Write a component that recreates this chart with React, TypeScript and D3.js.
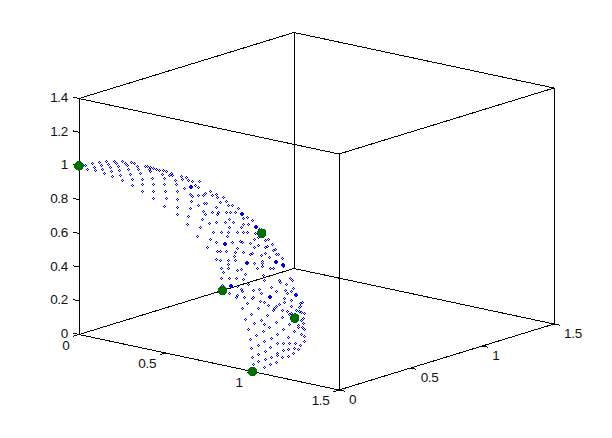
import React from "react";
import * as d3 from "d3";

const xTicks = [0, 0.5, 1, 1.5];
const yTicks = [0, 0.5, 1, 1.5];
const zTicks = [0, 0.2, 0.4, 0.6, 0.8, 1, 1.2, 1.4];

// green marker points [x, y, z]
const markers = [
  [0, 0, 1],
  [0, 1, 0],
  [0.577, 0.577, 0.577],
  [0.681, 0.681, 0.069],
  [1, 0, 0],
];

// blue cloud: depth can't be read off a flat picture, so each dot is kept as
// where it sits on the x = y plane: [x (= y), z]
const cloudTop = [
  [.019,1.005],[.025,.980],[.041,1.016],[.047,.992],[.051,.973],[.063,1.021],[.069,1.003],[.073,.978],[.079,.954],
  [.085,1.026],[.092,1.008],[.098,.989],[.101,.965],[.104,.935],[.111,1.025],[.117,1.013],[.123,.995],[.126,.970],
  [.129,.940],[.136,.911],[.136,1.024],[.145,1.012],[.152,1.000],[.155,.975],[.161,.945],[.167,.916],[.167,.880],
  [.164,1.017],[.174,1.011],[.183,.992],[.186,.974],[.193,.950],[.199,.915],[.199,.885],[.199,.843],[.208,.992],
  [.215,.991],[.224,.985],[.234,.979],[.243,.972],[.221,.973],[.224,.961],[.231,.920],[.234,.884],[.234,.842],
  [.234,.800],[.253,.966],[.262,.942],[.268,.918],[.268,.882],[.272,.840],[.275,.798],[.268,.750],[.284,.935],
  [.303,.905],[.306,.881],[.310,.839],[.310,.791],[.310,.743],[.310,.701],[.294,.934],[.325,.910],[.332,.856],
  [.344,.904],[.357,.897],[.366,.873],[.376,.861],[.379,.896],[.351,.819],[.357,.807],[.376,.813],[.354,.777],
  [.351,.735],[.376,.753],[.344,.688],[.341,.640],[.265,.965],[.275,.959],[.291,.947],[.322,.927],[.338,.922],[.373,.567],
];
const cloudMiddle = [
  [.392,.812],[.398,.824],[.395,.764],[.401,.764],[.414,.835],[.420,.811],[.433,.816],[.436,.798],[.445,.768],
  [.455,.798],[.433,.738],[.464,.773],[.471,.749],[.483,.749],[.502,.730],[.392,.716],[.398,.698],[.420,.709],
  [.439,.708],[.436,.696],[.464,.707],[.477,.707],[.493,.706],[.531,.675],[.518,.669],[.518,.633],[.389,.668],
  [.411,.643],[.433,.648],[.461,.647],[.474,.665],[.486,.647],[.546,.656],[.534,.633],[.512,.616],[.499,.586],
  [.518,.585],[.531,.585],[.382,.620],[.423,.589],[.449,.588],[.474,.617],[.471,.587],[.467,.563],[.569,.602],
  [.556,.578],[.414,.547],[.433,.529],[.483,.528],[.509,.533],[.515,.527],[.540,.520],[.404,.500],[.499,.491],
  [.553,.542],[.565,.554],[.553,.495],[.565,.507],[.436,.475],[.445,.475],[.464,.474],[.493,.467],[.518,.466],
  [.490,.443],[.433,.427],[.445,.421],[.471,.420],[.471,.396],[.493,.419],[.449,.373],[.455,.349],[.449,.319],
  [.471,.372],[.474,.318],[.499,.359],[.512,.365],[.524,.340],[.496,.317],[.518,.310],[.452,.277],[.499,.269],
  [.534,.280],[.512,.251],[.515,.239],[.474,.228],[.499,.215],[.496,.203],[.521,.202],[.531,.167],[.515,.138],
  [.587,.536],[.597,.541],[.587,.494],[.594,.500],[.610,.511],[.613,.475],[.619,.481],[.587,.458],[.575,.446],
  [.600,.433],[.622,.451],[.629,.450],[.641,.426],[.578,.410],[.553,.399],[.546,.459],[.540,.454],[.578,.398],
];
const cloudLower = [
  [.562,.372],[.578,.383],[.603,.370],[.613,.370],[.644,.381],[.581,.329],[.584,.299],[.632,.297],[.635,.285],
  [.654,.273],[.666,.308],[.673,.296],[.550,.240],[.569,.246],[.575,.221],[.606,.256],[.622,.232],[.651,.237],
  [.657,.218],[.676,.248],[.670,.230],[.550,.199],[.546,.193],[.572,.174],[.584,.169],[.648,.190],[.648,.167],
  [.632,.155],[.670,.177],[.698,.159],[.704,.165],[.565,.134],[.619,.138],[.613,.120],[.695,.135],[.695,.111],
  [.670,.142],[.543,.099],[.641,.077],[.622,.048],[.553,.044],[.584,.037],[.670,.100],[.663,.094],[.701,.105],
  [.711,.098],[.597,.151],[.616,.132],[.622,.144],[.641,.119],[.657,.112],[.685,.117],[.698,.141],[.524,.069],
  [.575,.061],[.594,.091],[.663,.034],[.692,.027],[.701,.057],[.708,.069],[.708,.039],[.534,.009],[.581,-.003],
  [.600,.018],[.644,.005],[.679,-.006],[.692,.015],[.704,.015],[.711,.004],[.701,-.025],[.711,-.038],[.559,-.026],
  [.540,-.049],[.606,-.046],[.625,-.022],[.660,-.042],[.711,-.068],[.584,-.063],[.565,-.086],[.543,-.103],
  [.625,-.076],[.644,-.077],[.663,-.078],[.682,-.078],[.698,-.091],[.603,-.100],[.692,-.114],[.587,-.122],
  [.565,-.139],[.660,-.113],[.679,-.107],[.625,-.135],[.644,-.118],[.676,-.137],[.546,-.157],[.565,-.181],
  [.587,-.170],[.606,-.159],[.625,-.147],[.641,-.160],[.660,-.155],[.550,-.199],[.584,-.218],[.603,-.201],[.622,-.189],
];
// the few dots drawn heavier
const cloudHeavy = [
  [.351,.861],[.512,.694],[.458,.523],[.556,.620],[.528,.406],[.477,.270],[.622,.409],[.644,.390],[.603,.202],[.685,.211],
];

const origin = [79, 334.5];
const xEdge = [260, 55.5];
const yEdge = [215, -66];
const zEdge = [0, -236];

const xs = d3.scaleLinear().domain([0, 1.5]).range([0, 1]);
const ys = d3.scaleLinear().domain([0, 1.5]).range([0, 1]);
const zs = d3.scaleLinear().domain([0, 1.4]).range([0, 1]);

const project = (x: number, y: number, z: number): [number, number] => [
  origin[0] + xs(x) * xEdge[0] + ys(y) * yEdge[0] + zs(z) * zEdge[0],
  origin[1] + xs(x) * xEdge[1] + ys(y) * yEdge[1] + zs(z) * zEdge[1],
];

const boxEdges: [number[], number[]][] = [];
[0, 1.4].forEach((z) => {
  boxEdges.push([[0, 0, z], [1.5, 0, z]]);
  boxEdges.push([[0, 0, z], [0, 1.5, z]]);
  boxEdges.push([[1.5, 0, z], [1.5, 1.5, z]]);
  boxEdges.push([[0, 1.5, z], [1.5, 1.5, z]]);
});
[[0, 0], [1.5, 0], [0, 1.5], [1.5, 1.5]].forEach(([x, y]) => {
  boxEdges.push([[x, y, 0], [x, y, 1.4]]);
});

const line = d3.line();
const fontFamily = "'Liberation Sans', Arial, sans-serif";
const ring = "M0 -1h1v1h-1zM-1 0h1v1h-1zM1 0h1v1h-1zM0 1h1v1h-1z";
const heavy = "M0 -1h2v1h-2zM-1 0h4v2h-4zM0 2h2v1h-2z";
const tickLen = 6;

export default function App() {
  const cloud = [...cloudTop, ...cloudMiddle, ...cloudLower];
  const dots = cloud.map(([t, z]) => project(t, t, z).map(Math.round));
  const heavyDots = cloudHeavy.map(([t, z]) => project(t, t, z).map((d) => Math.round(d - 0.5)));

  return (
    <svg
      width={612}
      height={438}
      style={{ position: "absolute", left: 0, top: 0, background: "#fff" }}
    >
      <g stroke="#000" fill="none" shapeRendering="crispEdges">
        {boxEdges.map(([a, b], i) => (
          <path key={i} d={line([project(a[0], a[1], a[2]), project(b[0], b[1], b[2])])!} />
        ))}
        {xTicks.map((t) => {
          const [u, v] = project(t, 0, 0);
          return <path key={t} d={line([[u, v], [u - tickLen * 0.957, v + tickLen * 0.29]])!} />;
        })}
        {yTicks.map((t) => {
          const [u2, v2] = project(1.5, t, 0);
          return <path key={t} d={line([[u2, v2], [u2 + tickLen * 0.977, v2 + tickLen * 0.214]])!} />;
        })}
        {zTicks.map((t) => {
          const [u, v] = project(0, 0, t);
          return <path key={t} d={line([[u, v], [u - tickLen * 0.977, v - tickLen * 0.214]])!} />;
        })}
      </g>

      <g fill="#0000ff" shapeRendering="crispEdges">
        {dots.map(([u, v], i) => (
          <path key={i} d={ring} transform={`translate(${u},${v})`} />
        ))}
        {heavyDots.map(([u, v], i) => (
          <path key={i} d={heavy} transform={`translate(${u},${v})`} />
        ))}
      </g>

      <g fill="#006f00" shapeRendering="crispEdges">
        {markers.map(([x, y, z], i) => {
          const [u, v] = project(x, y, z);
          return <circle key={i} cx={u} cy={v} r={4.8} />;
        })}
      </g>

      <g fontFamily={fontFamily} fontSize={13.5} letterSpacing={-0.3} fill="#111">
        {zTicks.map((t) => {
          const [u, v] = project(0, 0, t);
          return (
            <text key={t} x={u - 11} y={v - 1} textAnchor="end" dominantBaseline="central">
              {t}
            </text>
          );
        })}
        {xTicks.map((t) => {
          const [u, v] = project(t, 0, 0);
          return (
            <text key={t} x={u - 9.5} y={v + 10.5} textAnchor="end" dominantBaseline="central">
              {t}
            </text>
          );
        })}
        {yTicks.map((t) => {
          const [u, v] = project(1.5, t, 0);
          return (
            <text key={t} x={u + 10} y={v + 9.5} dominantBaseline="central">
              {t}
            </text>
          );
        })}
      </g>
    </svg>
  );
}
